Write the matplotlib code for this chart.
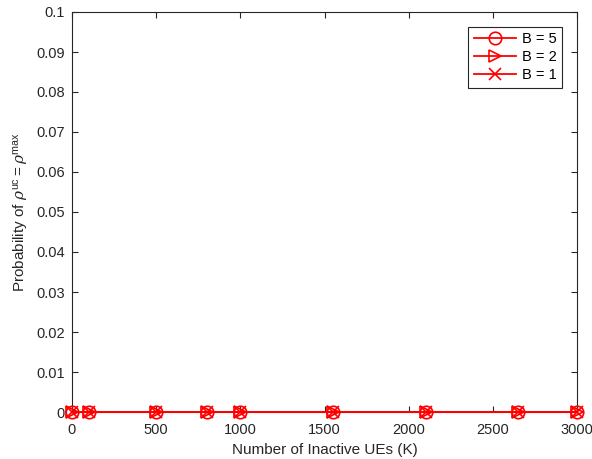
import numpy as np
import matplotlib
matplotlib.use('Agg')
from matplotlib import pyplot as plt

# data
users = [0, 100, 500, 800, 1000, 1550, 2100, 2650, 3000]
prob_b5 = [0, 0, 0, 0, 0, 0, 0, 0, 0]
prob_b2 = [0, 0, 0, 0, 0, 0, 0, 0, 0]
prob_b1 = [0, 0, 0, 0, 0, 0, 0, 0, 0]
yticks = [0, 0.01, 0.02, 0.03, 0.04, 0.05, 0.06, 0.07, 0.08, 0.09, 0.1]
xticks = [0, 500, 1000, 1500, 2000, 2500, 3000]

plt.rcParams['font.family'] = ['Liberation Sans', 'DejaVu Sans']
plt.rcParams['mathtext.fontset'] = 'custom'
plt.rcParams['mathtext.rm'] = 'Liberation Sans'
plt.rcParams['mathtext.it'] = 'DejaVu Serif:italic'

fig = plt.figure(figsize=(5.92, 4.59), dpi=100)
ax = fig.add_axes([72/592, 1 - 412/459, 505/592, 400/459])

ax.plot(users, prob_b5, '-o', color='red', mfc='none', ms=9, mew=1.2, lw=1.3,
        label='B = 5', clip_on=False, zorder=3)
ax.plot(users, prob_b2, '->', color='red', mfc='none', ms=9, mew=1.2, lw=1.3,
        label='B = 2', clip_on=False, zorder=3)
ax.plot(users, prob_b1, '-x', color='red', ms=8, mew=1.2, lw=1.3,
        label='B = 1', clip_on=False, zorder=3)

ax.set_xlim(0, 3000)
ax.set_ylim(0, 0.1)
ax.set_xticks(xticks)
ax.set_yticks(yticks)
ax.set_yticklabels([f'{v:g}' for v in yticks])
ax.tick_params(direction='in', length=4, labelsize=10.5, colors='#262626',
               top=True, right=True)
ax.tick_params(axis='x', pad=8)
ax.tick_params(axis='y', pad=5)
for s in ax.spines.values():
    s.set_color('#262626')
    s.set_linewidth(0.8)

ax.set_xlabel('Number of Inactive UEs (K)', fontsize=11, color='#262626', labelpad=4)
ax.set_ylabel(r'Probability of $\rho^{\mathrm{uc}}=\rho^{\mathrm{max}}$',
              fontsize=11, color='#262626', labelpad=4)

leg = ax.legend(loc='upper right', fontsize=10.5, fancybox=False, edgecolor='#262626',
                framealpha=1, handlelength=2.9, borderaxespad=1.0,
                labelspacing=0.25, handletextpad=0.4)
leg.get_frame().set_linewidth(0.8)

fig.savefig('out.png', dpi=100)
